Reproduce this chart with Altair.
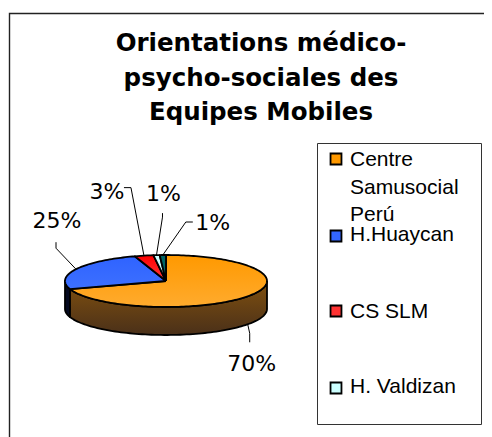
import numpy as np
import pandas as pd
import altair as alt

# ---- data
slice_names = ["Centre Samusocial Perú", "H.Huaycan", "CS SLM", "H. Valdizan", "Autre"]
slice_values = [70, 25, 3, 1, 1]
label_texts = ["70%", "25%", "3%", "1%", "1%"]
title_lines = ["Orientations médico-", "psycho-sociales des", "Equipes Mobiles"]
legend_lines = [["Centre", "Samusocial", "Perú"], ["H.Huaycan"], ["CS SLM"], ["H. Valdizan"]]

# ---- styles and layout
W, H = 476, 429
OX, OY = 8, 8
CX, CY, RX, RY, DEPTH = 166, 281, 101, 26, 28
top_fills = [("#ff9900", "#ffab2e"), ("#2f63ff", "#3d70ff"), ("#ff0000", "#ff3a3a"),
             ("#ccffff", "#ccffff"), ("#006666", "#006666")]
side_fills = [("#80500f", "#4a3019"), ("#050a20", "#050a20"), ("#660000", "#660000"),
              ("#527f7f", "#527f7f"), ("#002929", "#002929")]
legend_fills = ["#ff9900", "#3366ff", "#ff3333", "#ccffff"]
# (offset of elbow, offset of line end, label offset) from each slice's anchor
leader_offsets = [((2, 9), (2, 18), (4, 40)),
                  ((-20, -21), (-20, -27), (-19, -48)),
                  ((-13, -68), (-20, -68), (-37, -64)),
                  ((6, -38), (6, -42), (7, -61)),
                  ((23, -33), (30, -33), (50, -32))]
legend_font = "Liberation Sans"
label_font = "DejaVu Sans"

sx = alt.Scale(domain=[0, W], range=[0, W], nice=False, zero=False)
sy = alt.Scale(domain=[H, 0], range=[H, 0], nice=False, zero=False)
X = lambda f="x": alt.X(f"{f}:Q", scale=sx, axis=None)
Y = lambda f="y": alt.Y(f"{f}:Q", scale=sy, axis=None)


def px(x):
    return x - OX


def py(y):
    return y - OY


def grad(pair):
    return alt.Gradient(gradient="linear", x1=0, x2=0, y1=0, y2=1,
                        stops=[alt.GradientStop(color=pair[0], offset=0),
                               alt.GradientStop(color=pair[1], offset=1)])


def ell(deg):
    r = np.radians(deg)
    return px(CX + RX * np.sin(r)), py(CY - RY * np.cos(r))


def poly(pts, fill, sw=1.8):
    df = pd.DataFrame(pts, columns=["x", "y"]).assign(i=range(len(pts)))
    return alt.Chart(df).mark_line(fill=fill, stroke="black", strokeWidth=sw, strokeJoin="round").encode(
        x=X(), y=Y(), order="i:Q")


def line(pts, color="black", sw=1):
    df = pd.DataFrame(pts, columns=["x", "y"]).assign(i=range(len(pts)))
    return alt.Chart(df).mark_line(stroke=color, strokeWidth=sw).encode(x=X(), y=Y(), order="i:Q")


def text(rows, font, size, **kw):
    df = pd.DataFrame(rows, columns=["x", "y", "t"])
    return alt.Chart(df).mark_text(font=font, fontSize=size, color="black", **kw).encode(
        x=X(), y=Y(), text="t:N")


layers = []
# outer frame, open at the right and at the bottom edges of the picture
layers.append(line([(px(9.5), H), (px(9.5), py(13.5)), (W, py(13.5))], "#222222", 1.4))

# pie geometry from the values
edges = np.cumsum([0] + slice_values) / sum(slice_values) * 360
for i in range(len(slice_values)):
    a, b = edges[i], edges[i + 1]
    lo, hi = max(a, 90), min(b, 270)
    if lo < hi:
        ang = np.linspace(lo, hi, 90)
        rim = [ell(t) for t in ang]
        wall = rim + [(x, y + DEPTH) for x, y in rim[::-1]] + [rim[0]]
        layers.append(poly(wall, grad(side_fills[i])))
for i in range(len(slice_values)):
    a, b = edges[i], edges[i + 1]
    n = max(4, int((b - a) * 0.7))
    rim = [ell(t) for t in np.linspace(a, b, n)]
    layers.append(poly([(px(CX), py(CY))] + rim + [(px(CX), py(CY))], grad(top_fills[i])))

# leader lines and percentage labels
label_rows = []
for i in range(len(slice_values)):
    mid = (edges[i] + edges[i + 1]) / 2
    ax, ay = ell(mid)
    if 90 < mid < 270:
        ay += DEPTH
    elbow, end, lab = leader_offsets[i]
    layers.append(line([(ax, ay), (ax + elbow[0], ay + elbow[1]), (ax + end[0], ay + end[1])]))
    label_rows.append((ax + lab[0], ay + lab[1], label_texts[i]))
layers.append(text(label_rows, label_font, 22))

# title
layers.append(text([(px(261), py(44 + 34.5 * k), t) for k, t in enumerate(title_lines)],
                   "DejaVu Sans", 24.5, fontWeight="bold"))

# legend box and entries
layers.append(line([(px(317.5), py(424.5)), (px(317.5), py(143.5)), (px(481.5), py(143.5)),
                    (px(481.5), py(424.5)), (px(317.5), py(424.5))], "#333333", 1))
sw_y = [159, 236, 311, 388]
text_y = [160, 235, 312, 387]
line_step = 27.5
rows, squares = [], []
for k, lines in enumerate(legend_lines):
    squares.append((px(336), py(sw_y[k]), legend_fills[k]))
    for j, t in enumerate(lines):
        rows.append((px(350), py(text_y[k] + j * line_step), t))
layers.append(text(rows, legend_font, 21, align="left"))
sq = pd.DataFrame(squares, columns=["x", "y", "c"])
layers.append(alt.Chart(sq).mark_square(size=120, stroke="black", strokeWidth=1.8, opacity=1).encode(
    x=X(), y=Y(), fill=alt.Fill("c:N", scale=None)))

chart = alt.layer(*layers).properties(
    width=W, height=H, padding=0, autosize=alt.AutoSizeParams(type="none"), background="white"
).configure_view(stroke=None)
chart.save("out.html", embed_options={"renderer": "svg", "actions": False})
